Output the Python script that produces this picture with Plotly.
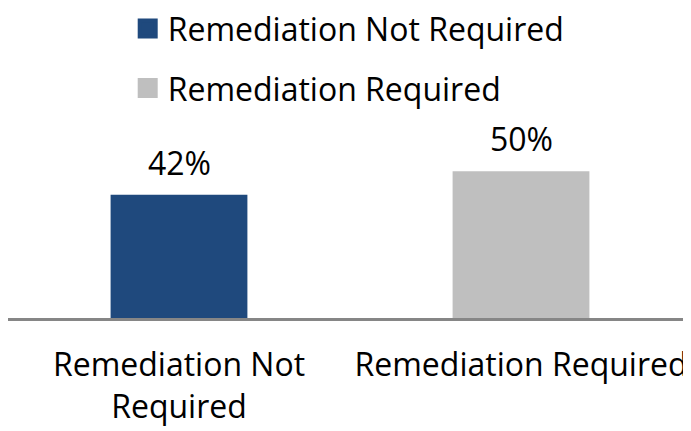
import plotly.graph_objects as go

categories = ["Remediation Not<br>Required", "Remediation Required"]
series_names = ["Remediation Not Required", "Remediation Required"]
values = [42, 50]
value_labels = ["42%", "50%"]
colors = ["#1F497D", "#BFBFBF"]

FONT = "'Open Sans', sans-serif"
FS = 32

fig = go.Figure()
for i in range(len(values)):
    fig.add_trace(go.Bar(
        x=[categories[i]], y=[values[i]], width=0.4,
        marker=dict(color=colors[i], line=dict(width=0)),
        showlegend=False, hoverinfo="skip",
    ))
    fig.add_trace(go.Scatter(
        x=[None], y=[None], mode="markers", name=series_names[i],
        marker=dict(symbol="square", size=20, color=colors[i],
                    line=dict(width=4, color=colors[i])),
        legendgroup="g%d" % i,
    ))
    fig.add_annotation(x=categories[i], y=values[i], text=value_labels[i],
                       showarrow=False, yanchor="bottom", yshift=9,
                       font=dict(family=FONT, size=FS, color="black"))

fig.update_layout(
    width=691, height=431,
    margin=dict(l=0, r=7, t=134, b=121, autoexpand=False),
    paper_bgcolor="white", plot_bgcolor="white",
    barmode="overlay",
    font=dict(family=FONT, size=FS, color="black"),
    legend=dict(x=0.175, xanchor="left", y=1.80, yanchor="top", yref="paper",
                tracegroupgap=15, font=dict(family=FONT, size=FS, color="black"),
                itemsizing="trace"),
    xaxis=dict(showline=True, linecolor="#868686", linewidth=2.5, showgrid=False,
               automargin=False,
               ticks="", ticklabelstandoff=17, tickfont=dict(size=FS)),
    yaxis=dict(range=[0, 60], visible=False, automargin=False),
)

fig.write_html("out.html")
